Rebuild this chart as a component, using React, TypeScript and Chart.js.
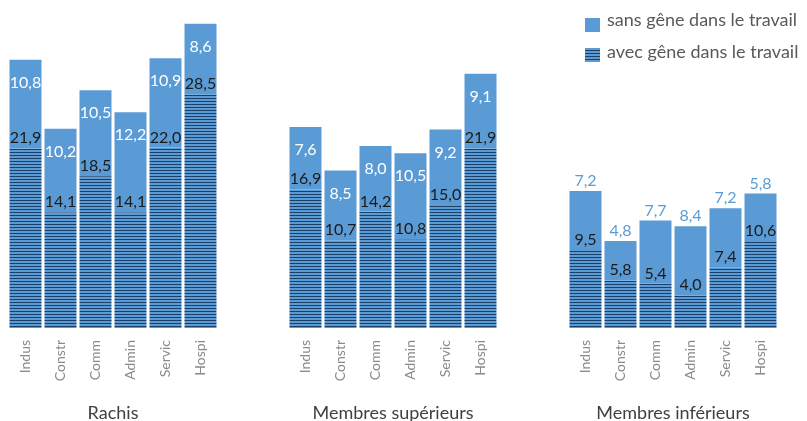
import React, { useEffect, useRef } from "react";
import { Chart, registerables } from "chart.js";

Chart.register(...registerables);

// ---- data ----
const categories = ["Indus", "Constr", "Comm", "Admin", "Servic", "Hospi"];
const groupNames = ["Rachis", "Membres supérieurs", "Membres inférieurs"];
const rachisAvec = [21.9, 14.1, 18.5, 14.1, 22.0, 28.5];
const rachisSans = [10.8, 10.2, 10.5, 12.2, 10.9, 8.6];
const supAvec = [16.9, 10.7, 14.2, 10.8, 15.0, 21.9];
const supSans = [7.6, 8.5, 8.0, 10.5, 9.2, 9.1];
const infAvec = [9.5, 5.8, 5.4, 4.0, 7.4, 10.6];
const infSans = [7.2, 4.8, 7.7, 8.4, 7.2, 5.8];
const seriesNames = ["avec gêne dans le travail", "sans gêne dans le travail"];
const topLabelOutside = [false, false, true];

const GAP = 2;
const BLUE = "#5b9bd5";
const DARK = "#1e3f66";
const FONT = "Lato, 'Open Sans', sans-serif";

const fmt = (v: number) => v.toFixed(1).replace(".", ",");

export default function App() {
  const ref = useRef<HTMLCanvasElement>(null);

  useEffect(() => {
    const canvas = ref.current!;
    const ctx = canvas.getContext("2d")!;
    const pc = document.createElement("canvas");
    pc.width = 4;
    pc.height = 3;
    const p = pc.getContext("2d")!;
    p.fillStyle = BLUE;
    p.fillRect(0, 0, 4, 3);
    p.fillStyle = DARK;
    p.fillRect(0, 2, 4, 1);
    const pattern = ctx.createPattern(pc, "repeat")!;

    const labels: string[] = [];
    const avec: (number | null)[] = [];
    const sans: (number | null)[] = [];
    const groupIdx: number[] = [];
    const series = [
      [rachisAvec, rachisSans],
      [supAvec, supSans],
      [infAvec, infSans],
    ];
    series.forEach(([a, s], g) => {
      if (g > 0)
        for (let i = 0; i < GAP; i++) {
          labels.push("");
          avec.push(null);
          sans.push(null);
          groupIdx.push(-1);
        }
      categories.forEach((c, i) => {
        labels.push(c);
        avec.push(a[i]);
        sans.push(s[i]);
        groupIdx.push(g);
      });
    });

    const labelPlugin = {
      id: "valueLabels",
      afterDatasetsDraw(chart: any) {
        const c = chart.ctx;
        c.save();
        c.font = `16px ${FONT}`;
        c.textAlign = "center";
        c.textBaseline = "alphabetic";
        const m0 = chart.getDatasetMeta(0);
        const m1 = chart.getDatasetMeta(1);
        m0.data.forEach((el: any, i: number) => {
          const v = avec[i];
          if (v == null) return;
          c.fillStyle = "#1a1a1a";
          c.fillText(fmt(v), el.x, el.y - 5);
        });
        m1.data.forEach((el: any, i: number) => {
          const v = sans[i];
          if (v == null) return;
          const g = groupIdx[i];
          if (topLabelOutside[g]) {
            c.fillStyle = BLUE;
            c.fillText(fmt(v), el.x, el.y - 5);
          } else {
            c.fillStyle = "#ffffff";
            c.fillText(fmt(v), el.x, el.y + 28);
          }
        });
        c.restore();
      },
      afterDraw(chart: any) {
        const c = chart.ctx;
        const xs = chart.scales.x;
        c.save();
        // group names
        c.font = `18px ${FONT}`;
        c.fillStyle = "#404040";
        c.textAlign = "center";
        c.textBaseline = "alphabetic";
        groupNames.forEach((name, g) => {
          const first = groupIdx.indexOf(g);
          const last = groupIdx.lastIndexOf(g);
          const cx = (xs.getPixelForValue(first) + xs.getPixelForValue(last)) / 2;
          c.fillText(name, cx, 419);
        });
        // legend
        c.font = `18px ${FONT}`;
        c.textAlign = "left";
        c.textBaseline = "alphabetic";
        c.fillStyle = BLUE;
        c.fillRect(585, 18, 15, 14);
        c.fillStyle = "#595959";
        c.fillText(seriesNames[1], 607, 26);
        c.fillStyle = pattern;
        c.fillRect(585, 48, 15, 14);
        c.fillStyle = "#595959";
        c.fillText(seriesNames[0], 607, 58);
        c.restore();
      },
    };

    const chart = new Chart(canvas, {
      type: "bar",
      data: {
        labels,
        datasets: [
          {
            label: seriesNames[0],
            data: avec,
            backgroundColor: pattern as any,
            borderWidth: 0,
            barPercentage: 0.914,
            categoryPercentage: 1,
          },
          {
            label: seriesNames[1],
            data: sans,
            backgroundColor: BLUE,
            borderWidth: 0,
            barPercentage: 0.914,
            categoryPercentage: 1,
          },
        ],
      },
      options: {
        responsive: false,
        animation: false,
        devicePixelRatio: 1,
        layout: { padding: { left: 8, right: 29, top: 0, bottom: 0 } },
        plugins: {
          legend: { display: false },
          tooltip: { enabled: false },
        },
        scales: {
          x: {
            stacked: true,
            grid: { display: false, drawTicks: false },
            border: { display: false },
            afterFit: (s: any) => {
              s.height = 93;
            },
            ticks: {
              autoSkip: false,
              minRotation: 90,
              maxRotation: 90,
              padding: 12,
              color: "#8a8a8a",
              font: { family: FONT, size: 14 },
            },
          },
          y: {
            stacked: true,
            display: false,
            min: 0,
            max: 40,
          },
        },
      },
      plugins: [labelPlugin],
    });
    return () => chart.destroy();
  }, []);

  return (
    <div style={{ position: "fixed", left: 0, top: 0, width: 807, height: 421, background: "#fff" }}>
      <canvas ref={ref} width={807} height={421} style={{ display: "block" }} />
    </div>
  );
}
